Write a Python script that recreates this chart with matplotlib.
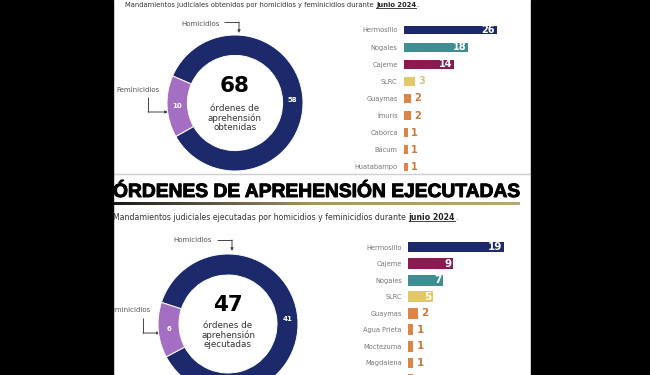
import matplotlib
matplotlib.use("Agg")
import matplotlib.pyplot as plt
from matplotlib.patches import Rectangle
from matplotlib.colors import LinearSegmentedColormap
import matplotlib.patheffects as pe
import numpy as np

W, H = 650, 375

# datos
tipos = ["Homicidios", "Feminicidios"]
obtenidas = [58, 10]
ejecutadas = [41, 6]

mun_obt = ["Hermosillo", "Nogales", "Cajeme", "SLRC", "Guaymas", "Ímuris",
           "Caborca", "Bácum", "Huatabampo"]
val_obt = [26, 18, 14, 3, 2, 2, 1, 1, 1]

mun_eje = ["Hermosillo", "Cajeme", "Nogales", "SLRC", "Guaymas", "Agua Prieta",
           "Moctezuma", "Magdalena", "Navojoa"]
val_eje = [19, 9, 7, 5, 2, 1, 1, 1, 1]

titulo = "ÓRDENES DE APREHENSIÓN EJECUTADAS"
sub_obt = "Mandamientos judiciales obtenidos por homicidios y feminicidios durante"
sub_eje = "Mandamientos judiciales ejecutadas por homicidios y feminicidios durante"
mes = "junio 2024"

# estilos
NAVY = "#1c2a6c"
PURPLE = "#a46fc3"
TEAL = "#3e8e93"
MAROON = "#8b1a50"
YELLOW = "#e2c868"
ORANGE = "#dc8545"
col_mun = {"Hermosillo": NAVY, "Nogales": TEAL, "Cajeme": MAROON, "SLRC": YELLOW}
col_txt = {"SLRC": "#d9c27a"}
GRIS = "#555555"

fig = plt.figure(figsize=(6.5, 3.75), dpi=100, facecolor="black")


def px_axes(x0, y0, w, h, **kw):
    return fig.add_axes([x0 / W, 1 - (y0 + h) / H, w / W, h / H], **kw)


bg = px_axes(0, 0, W, H)
bg.axis("off")
bg.add_patch(Rectangle((113, 0), 418, H, color="white", zorder=0))


def ext(t):
    fig.canvas.draw()
    b = t.get_window_extent().transformed(bg.transData.inverted())
    return min(b.x0, b.x1), max(b.x0, b.x1), min(b.y0, b.y1), max(b.y0, b.y1)


def subtitulo(x, y, texto, fs):
    t1 = bg.text(x, y, texto, fontsize=fs, color="#333333", va="center")
    x2 = ext(t1)[1] + fs * 0.5
    t2 = bg.text(x2, y, mes, fontsize=fs, color="#222222", va="center",
                 fontweight="bold")
    a, b, c, d = ext(t2)
    bg.plot([a, b], [d - 0.5, d - 0.5], color="#222222", lw=0.6)
    bg.text(b, y, ".", fontsize=fs, color="#333333", va="center")


def flecha(puntos):
    xs, ys = zip(*puntos)
    bg.plot(xs[:-1], ys[:-1], color="#444444", lw=0.7, solid_capstyle="butt")
    bg.annotate("", xy=puntos[-1], xytext=puntos[-2],
                arrowprops=dict(arrowstyle="-|>", color="#444444", lw=0.7,
                                mutation_scale=4, shrinkA=0, shrinkB=0))


def dona(cx, cy, r, vals, ancho, ang):
    ax = px_axes(cx - r, cy - r, 2 * r, 2 * r)
    cuñas, _ = ax.pie(vals, colors=[NAVY, PURPLE], startangle=ang, radius=1,
                      counterclock=True,
                      wedgeprops=dict(width=ancho, edgecolor="white", linewidth=0.7))
    ax.set_xlim(-1, 1)
    ax.set_ylim(-1, 1)
    ax.axis("off")
    rr = 1 - ancho / 2
    for c, v in zip(cuñas, vals):
        th = np.deg2rad((c.theta1 + c.theta2) / 2)
        ax.text(rr * np.cos(th), rr * np.sin(th), str(v), ha="center", va="center",
                color="white", fontsize=5, fontweight="bold")


def barras(x0, y_top, paso, escala, xmax, muns, vals, alto, fs_val, umbral):
    n = len(muns)
    ax = px_axes(x0, y_top - paso / 2, xmax * escala, n * paso)
    y = np.arange(n)
    colores = [col_mun.get(m, ORANGE) for m in muns]
    ax.barh(y, vals, height=alto, color=colores)
    ax.set_xlim(0, xmax)
    ax.set_ylim(n - 0.5, -0.5)
    # filas que caen fuera del recorte solo muestran la barra
    visibles = [y_top + i * paso < H - 4 for i in y]
    ax.set_yticks(y, [m if v else "" for m, v in zip(muns, visibles)])
    ax.tick_params(axis="y", length=0, pad=4.5, labelsize=4.8, labelcolor="#777777")
    ax.set_xticks([])
    for s in ax.spines.values():
        s.set_visible(False)
    ax.patch.set_alpha(0)
    for i, (m, v) in enumerate(zip(muns, vals)):
        if not visibles[i]:
            continue
        if v >= umbral:
            ax.annotate(str(v), (v, i), xytext=(-1.5, 0), textcoords="offset points",
                        ha="right", va="center", color="white", fontsize=fs_val,
                        fontweight="bold")
        else:
            ax.annotate(str(v), (v, i), xytext=(2.5, 0), textcoords="offset points",
                        ha="left", va="center", color=col_txt.get(m, "#c8793c"),
                        fontsize=fs_val, fontweight="bold")


# separador con degradado (antes de fijar limites)
grad = np.linspace(0, 1, 256)[None, :]
cmap = LinearSegmentedColormap.from_list("oro", ["#1a1a1a", "#a99465", "#b8a876"])
bg.imshow(grad, cmap=cmap, extent=(113, 520, 205, 202.8), aspect="auto", zorder=2)
bg.set_xlim(0, W)
bg.set_ylim(H, 0)

# --- parte superior: obtenidas ---
subtitulo(125, 5, sub_obt, 4.9)
dona(235, 103, 68, obtenidas, 0.3, 209.5)
bg.text(235, 86, str(sum(obtenidas)), ha="center", va="center", fontsize=15.5,
        fontweight="bold", color="black")
bg.text(235, 118, "órdenes de\naprehensión\nobtenidas", ha="center", va="center",
        fontsize=6.3, color="#333333", linespacing=1.05)
bg.text(201, 24, tipos[0], ha="center", va="center", fontsize=5, color=GRIS)
flecha([(224, 22), (239, 22), (239, 33)])
bg.text(160, 90, tipos[1], ha="right", va="center", fontsize=5, color=GRIS)
flecha([(148, 97), (148, 112), (168, 112)])
barras(404, 30, 17.125, 3.58, 30, mun_obt, val_obt, 0.52, 7, 10)

# --- separador y titulo ---
bg.plot([113, 531], [174, 174], color="#cfcfcf", lw=1)
tt = bg.text(113, 192.5, titulo, ha="left", va="center", fontsize=14,
             fontweight="bold", color="black", family="Liberation Sans",
             path_effects=[pe.withStroke(linewidth=0.7, foreground="black")])
a, b, c, d = ext(tt)
tt.set_fontsize(14 * 408 / (b - a))
subtitulo(113, 217, sub_eje, 5.6)

# --- parte inferior: ejecutadas ---
dona(228, 324, 70, ejecutadas, 0.3, 208)
bg.text(228, 305, str(sum(ejecutadas)), ha="center", va="center", fontsize=15.5,
        fontweight="bold", color="black")
bg.text(228, 335, "órdenes de\naprehensión\nejecutadas", ha="center", va="center",
        fontsize=6.3, color="#333333", linespacing=1.05)
bg.text(193, 240, tipos[0], ha="center", va="center", fontsize=5, color=GRIS)
flecha([(217, 240), (232, 240), (232, 251)])
bg.text(151, 310, tipos[1], ha="right", va="center", fontsize=5, color=GRIS)
flecha([(143, 318), (143, 333), (160, 333)])
barras(408, 247, 16.57, 5.05, 22, mun_eje, val_eje, 0.66, 7.5, 5)

# bordes negros
cov = px_axes(0, 0, W, H, zorder=20)
cov.set_xlim(0, W)
cov.set_ylim(H, 0)
cov.axis("off")
cov.add_patch(Rectangle((0, 0), 113, H, color="black"))
cov.add_patch(Rectangle((531, 0), W - 531, H, color="black"))

fig.savefig("out.png", dpi=100, facecolor="black")
